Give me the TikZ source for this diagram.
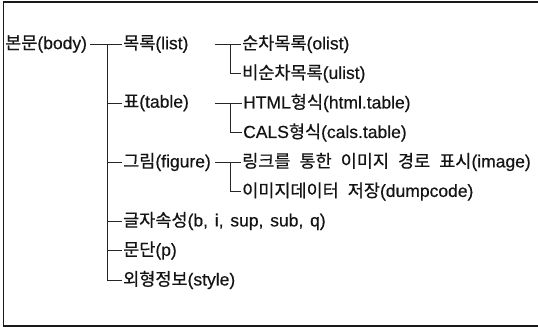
\documentclass[tikz,border=0pt]{standalone}
\usepackage{fontspec}
\setmainfont[WordSpace=1.4,FakeBold=0.5]{Liberation Sans}
\newfontfamily\krfont[WordSpace=2.3,FakeBold=0.6]{Noto Sans CJK KR}
\newcommand{\K}[1]{{\krfont #1}}
\tikzset{
  lbl/.style={anchor=west, inner sep=0pt, text=black!92, font=\fontsize{17.5pt}{19pt}\selectfont},
  conn/.style={draw=black!85, line width=0.75pt},
  frame/.style={draw=black!90, line width=1.6pt}
}
\begin{document}
\begin{tikzpicture}[x=1pt, y=-1pt]
\useasboundingbox (0,0) rectangle (538,329);
\draw[frame] (545,2) -- (3.5,2) -- (3.5,326) -- (545,326);
% level 0
\node[lbl] (body) at (5,44) {\K{본문}(body)};
% level 1
\node[lbl] (list) at (123,44) {\K{목록}(list)};
\node[lbl] (table) at (123,103) {\K{표}(table)};
\node[lbl] (figure) at (123,162) {\K{그림}(figure)};
\node[lbl] (attr) at (123,221) {\K{글자속성}(b, i, sup, sub, q)};
\node[lbl] (para) at (123,250.5) {\K{문단}(p)};
\node[lbl] (style) at (123,280) {\K{외형정보}(style)};
% level 2
\node[lbl] (olist) at (242,44) {\K{순차목록}(olist)};
\node[lbl] (ulist) at (242,73.5) {\K{비순차목록}(ulist)};
\node[lbl] (html) at (243,103) {HTML\K{형식}(html.table)};
\node[lbl] (cals) at (243,132.5) {CALS\K{형식}(cals.table)};
\node[lbl] (image) at (242,162) {\K{링크를 통한 이미지 경로 표시}(image)};
\node[lbl] (dump) at (242,191.5) {\K{이미지데이터 저장}(dumpcode)};
% junctions
\coordinate (j0) at (107.5,44);
\coordinate (s1) at (215,44);
\coordinate (v1) at (230,44);
\coordinate (s2) at (215,103);
\coordinate (v2) at (230,103);
\coordinate (s3) at (215,162);
\coordinate (v3) at (230,162);
% trunk
\draw[conn] ([xshift=3pt]body.east) -- ([xshift=-1pt]list.west);
\draw[conn] (j0) |- ([xshift=-1pt]style.west);
\foreach \n in {table,figure,attr,para}
  \draw[conn] (j0 |- \n.west) -- ([xshift=-1pt]\n.west);
% level 2 branches
\draw[conn] (s1) -- ([xshift=-1pt]olist.west);
\draw[conn] (v1) |- ([xshift=-1pt]ulist.west);
\draw[conn] (s2) -- ([xshift=-1pt]html.west);
\draw[conn] (v2) |- ([xshift=-1pt]cals.west);
\draw[conn] (s3) -- ([xshift=-1pt]image.west);
\draw[conn] (v3) |- ([xshift=-1pt]dump.west);
\end{tikzpicture}
\end{document}
